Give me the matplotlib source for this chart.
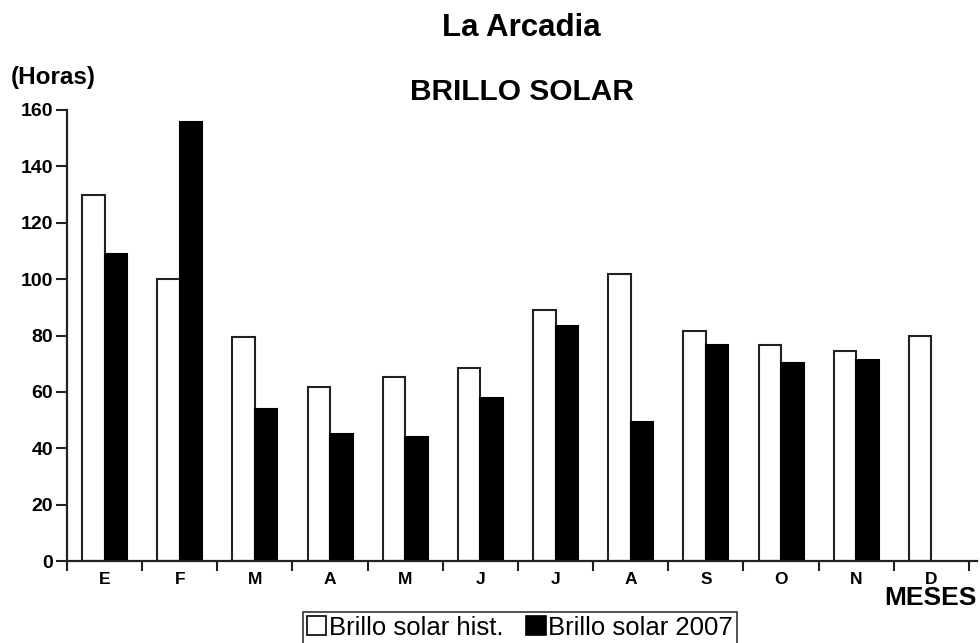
import matplotlib
matplotlib.use("Agg")
import matplotlib.pyplot as plt
from matplotlib.patches import Rectangle
import numpy as np

plt.rcParams['font.family'] = ['Liberation Sans', 'DejaVu Sans']

months = ["E", "F", "M", "A", "M", "J", "J", "A", "S", "O", "N", "D"]
hist = [130.0, 100.2, 79.4, 61.9, 65.2, 68.6, 89.2, 101.9, 81.7, 76.6, 74.6, 80.0]
y2007 = [108.8, 155.8, 53.9, 45.0, 43.9, 57.7, 83.4, 49.4, 76.7, 70.2, 71.4, np.nan]
yticks = [0, 20, 40, 60, 80, 100, 120, 140, 160]

W, H = 980, 643
fig = plt.figure(figsize=(W / 100, H / 100), dpi=100)
left, right = 67 / W, 976.5 / W
bottom, top = 1 - 561 / H, 1 - 110 / H
ax = fig.add_axes([left, bottom, right - left, top - bottom])

x = np.arange(len(months))
bw = 0.3
ax.bar(x - bw / 2, hist, width=bw, color="white", edgecolor="#222222", linewidth=1.5)
m = ~np.isnan(np.array(y2007))
ax.bar(x[m] + bw / 2, np.array(y2007)[m], width=bw, color="black", edgecolor="black", linewidth=1.5)

ax.set_xlim(-0.5, 11.6)
ax.set_ylim(0, 160)
for s in ["top", "right"]:
    ax.spines[s].set_visible(False)
for s in ["left", "bottom"]:
    ax.spines[s].set_linewidth(1.6)
    ax.spines[s].set_color("#222222")

ax.set_yticks(yticks)
ax.set_yticklabels([str(v) for v in yticks], fontsize=14, fontweight="bold")
ax.tick_params(axis="y", direction="out", length=8, width=1.5, pad=2, color="#222222")

ax.set_xticks(np.arange(-0.5, 12, 1.0))
ax.set_xticklabels([])
ax.tick_params(axis="x", which="major", direction="out", length=7, width=1.5, color="#222222")
ax.set_xticks(x, minor=True)
ax.set_xticklabels(months, minor=True, fontsize=12.5, fontweight="bold")
ax.tick_params(axis="x", which="minor", length=0, pad=8)

fig.text(521 / W, 1 - 36 / H, "La Arcadia", ha="center", va="baseline", fontsize=22.5, fontweight="bold")
fig.text(522 / W, 1 - 100 / H, "BRILLO SOLAR", ha="center", va="baseline", fontsize=21.5, fontweight="bold")
fig.text(11 / W, 1 - 84 / H, "(Horas)", ha="left", va="baseline", fontsize=17.5, fontweight="bold")
fig.text(977 / W, 1 - 605 / H, "MESES", ha="right", va="baseline", fontsize=19, fontweight="bold")

handles = [Rectangle((0, 0), 1, 1, facecolor="white", edgecolor="black", linewidth=1.2),
           Rectangle((0, 0), 1, 1, facecolor="black", edgecolor="black", linewidth=1.2)]
leg = fig.legend(handles, ["Brillo solar hist.", "Brillo solar 2007"], ncol=2,
                 loc="upper center", bbox_to_anchor=(520 / W, 1 - 612 / H),
                 fontsize=18.5, frameon=True, fancybox=False, edgecolor="black",
                 handlelength=0.75, handleheight=0.75, handletextpad=0.1,
                 columnspacing=0.9, borderpad=0.15, borderaxespad=0)
leg.get_frame().set_linewidth(1.2)

fig.savefig("out.png", dpi=100)
